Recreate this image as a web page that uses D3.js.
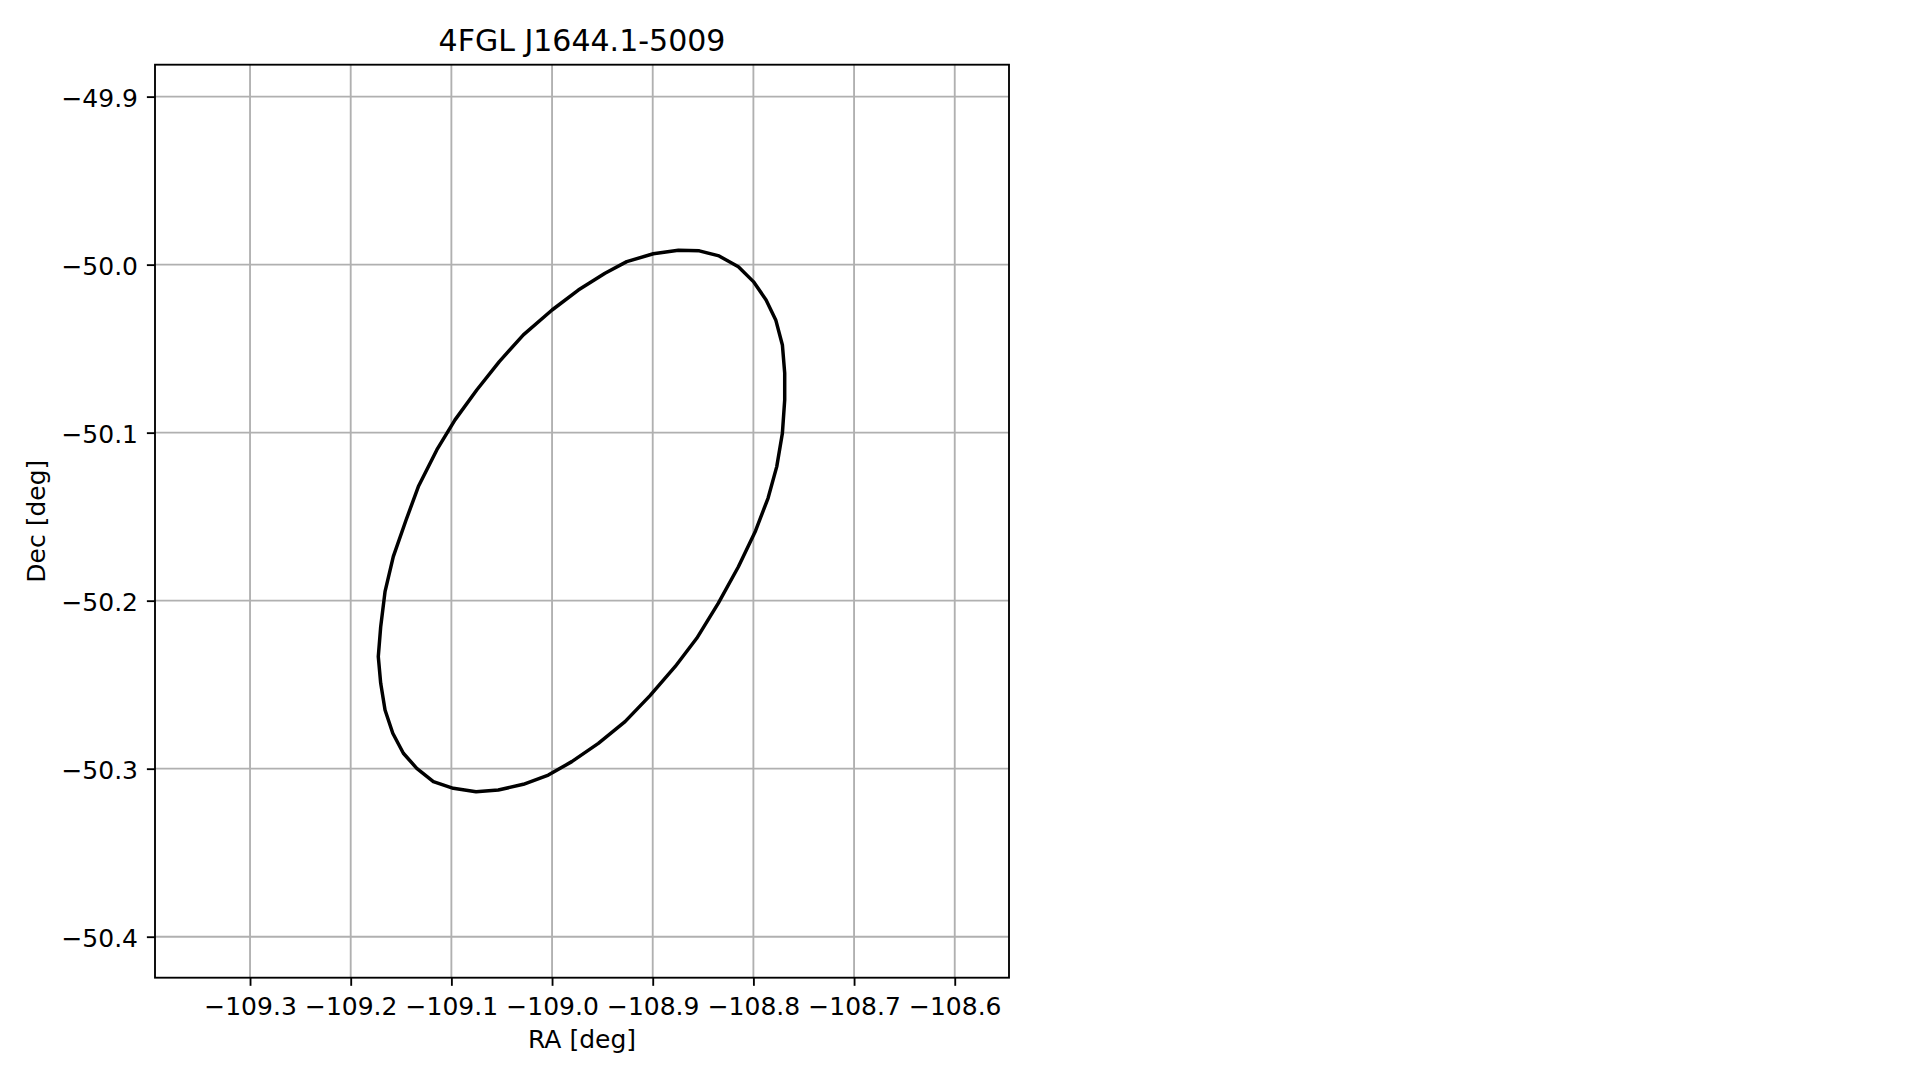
<!DOCTYPE html>
<html>
<head>
<meta charset="utf-8">
<script src="https://cdn.jsdelivr.net/npm/d3@7"></script>
<style>
  html, body { margin: 0; padding: 0; background: #ffffff; }
  svg { display: block; }
  text { font-family: "DejaVu Sans", sans-serif; fill: #000; }
</style>
</head>
<body>
<svg id="chart" width="1919" height="1080"></svg>
<script>
// ---- data ----
const title = "4FGL J1644.1-5009";
const xLabel = "RA [deg]";
const yLabel = "Dec [deg]";
const xDomain = [-109.3944, -108.5461];
const yDomain = [-50.4244, -49.8810];
const xTicks = [-109.3, -109.2, -109.1, -109.0, -108.9, -108.8, -108.7, -108.6];
const yTicks = [-49.9, -50.0, -50.1, -50.2, -50.3, -50.4];
const ellipseRA = [
  -108.8745, -108.8537, -108.8341, -108.8149, -108.8000, -108.7874, -108.7778, -108.7712,
  -108.7689, -108.7689, -108.7712, -108.7768, -108.7854, -108.7979, -108.8149, -108.8348,
  -108.8563, -108.8778, -108.9027, -108.9275, -108.9540, -108.9804, -109.0037, -109.0285,
  -109.0534, -109.0755, -109.0981, -109.1179, -109.1344, -109.1477, -109.1582, -109.1659,
  -109.1702, -109.1726, -109.1702, -109.1659, -109.1577, -109.1450, -109.1328, -109.1145,
  -109.0964, -109.0748, -109.0524, -109.0285, -109.0000, -108.9739, -108.9474, -108.9258,
  -108.8994
];
const ellipseDec = [
  -49.9914, -49.9918, -49.9948, -50.0012, -50.0101, -50.0210, -50.0329, -50.0478,
  -50.0646, -50.0805, -50.1004, -50.1202, -50.1389, -50.1585, -50.1798, -50.2015,
  -50.2224, -50.2393, -50.2565, -50.2720, -50.2849, -50.2958, -50.3038, -50.3093,
  -50.3127, -50.3137, -50.3117, -50.3077, -50.2998, -50.2908, -50.2789, -50.2651,
  -50.2492, -50.2333, -50.2155, -50.1946, -50.1738, -50.1520, -50.1321, -50.1103,
  -50.0924, -50.0746, -50.0577, -50.0418, -50.0270, -50.0151, -50.0051, -49.9982,
  -49.9935
];

(function () {
  // ---- layout ----
  const pL = 155, pR = 1009, pT = 64.7, pB = 977.7;
  const pt = 2.32;
  const fs = 25;
  const svg = d3.select("#chart");
  svg.append("rect").attr("width", 1919).attr("height", 1080).attr("fill", "#fff");

  const x = d3.scaleLinear().domain(xDomain).range([pL, pR]);
  const y = d3.scaleLinear().domain(yDomain).range([pB, pT]);
  const fmt = v => d3.format(".1f")(v).replace("-", "\u2212");

  // grid
  const grid = svg.append("g");
  grid.selectAll("line.gx").data(xTicks).join("line").attr("class", "gx")
    .attr("x1", d => x(d)).attr("x2", d => x(d))
    .attr("y1", pT).attr("y2", pB)
    .attr("stroke", "#b0b0b0").attr("stroke-width", 0.8 * pt);
  grid.selectAll("line.gy").data(yTicks).join("line").attr("class", "gy")
    .attr("y1", d => y(d)).attr("y2", d => y(d))
    .attr("x1", pL).attr("x2", pR)
    .attr("stroke", "#b0b0b0").attr("stroke-width", 0.8 * pt);

  // ellipse
  const pts = ellipseRA.map((r, i) => [r, ellipseDec[i]]);
  svg.append("path")
    .attr("d", d3.line().x(d => x(d[0])).y(d => y(d[1])).curve(d3.curveLinearClosed)(pts))
    .attr("fill", "none").attr("stroke", "#000")
    .attr("stroke-width", 1.5 * pt).attr("stroke-linejoin", "round");

  // axes via d3 axis generators
  const xAxis = d3.axisBottom(x).tickValues(xTicks).tickFormat(fmt)
    .tickSize(3.5 * pt).tickPadding(3.5 * pt).tickSizeOuter(0);
  const yAxis = d3.axisLeft(y).tickValues(yTicks).tickFormat(fmt)
    .tickSize(3.5 * pt).tickPadding(3.5 * pt).tickSizeOuter(0);

  const gx = svg.append("g").attr("transform", `translate(0,${pB})`).call(xAxis);
  const gy = svg.append("g").attr("transform", `translate(${pL},0)`).call(yAxis);
  [gx, gy].forEach(g => {
    g.select(".domain").remove();
    g.selectAll(".tick line").attr("stroke", "#000").attr("stroke-width", 0.8 * pt);
    g.selectAll(".tick text").attr("font-size", fs).attr("font-family", "DejaVu Sans").attr("fill", "#000");
  });
  gx.selectAll(".tick text").attr("dy", null).attr("y", 37.3);
  gy.selectAll(".tick text").attr("dy", null).attr("x", -17).attr("y", 10);

  // spines
  svg.append("rect")
    .attr("x", pL).attr("y", pT).attr("width", pR - pL).attr("height", pB - pT)
    .attr("fill", "none").attr("stroke", "#000").attr("stroke-width", 0.8 * pt);

  // title and labels
  svg.append("text").attr("x", (pL + pR) / 2).attr("y", 51)
    .attr("text-anchor", "middle").attr("font-size", 30).text(title);
  svg.append("text").attr("x", (pL + pR) / 2).attr("y", 1048)
    .attr("text-anchor", "middle").attr("font-size", fs).text(xLabel);
  svg.append("text").attr("transform", `translate(45,${(pT + pB) / 2}) rotate(-90)`)
    .attr("text-anchor", "middle").attr("font-size", fs).text(yLabel);
})();
</script>
</body>
</html>
